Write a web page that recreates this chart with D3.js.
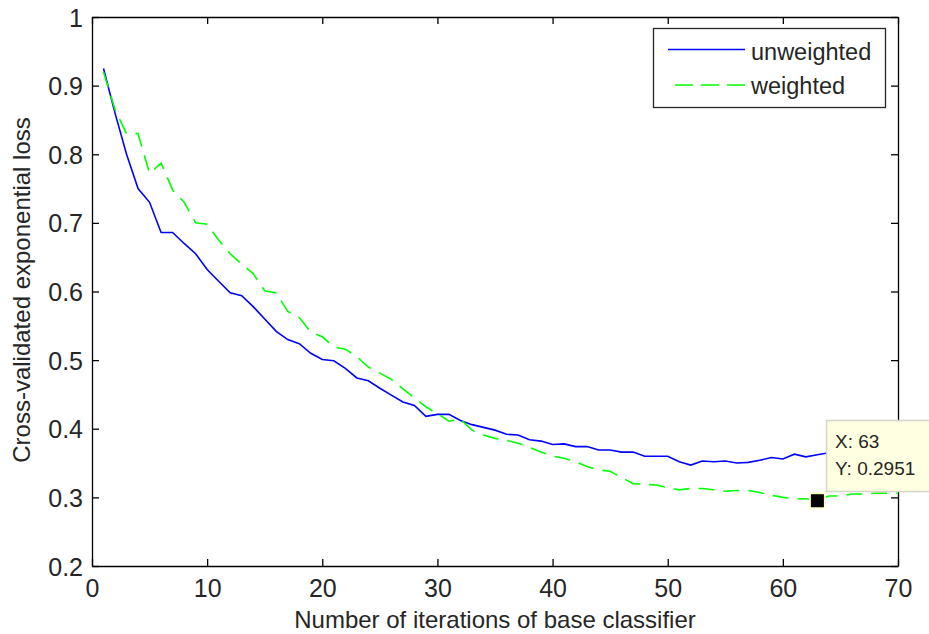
<!DOCTYPE html>
<html>
<head>
<meta charset="utf-8">
<script src="https://cdn.jsdelivr.net/npm/d3@7"></script>
<style>
  html, body { margin: 0; padding: 0; background: #ffffff; }
  svg { display: block; }
  text { font-family: "Liberation Sans", Arial, Helvetica, sans-serif; fill: #262626; }
</style>
</head>
<body>
<svg id="chart" width="929" height="634"></svg>
<script>
// ---- data ----
const iterations = d3.range(1, 71);
const unweighted = [
  0.925, 0.860, 0.800, 0.750, 0.730, 0.686, 0.686, 0.670, 0.655, 0.632,
  0.615, 0.598, 0.594, 0.578, 0.560, 0.542, 0.530, 0.524, 0.510, 0.501,
  0.499, 0.488, 0.474, 0.470, 0.459, 0.449, 0.439, 0.434, 0.418, 0.421,
  0.421, 0.412, 0.406, 0.402, 0.398, 0.392, 0.391, 0.384, 0.382, 0.377,
  0.378, 0.374, 0.374, 0.369, 0.369, 0.366, 0.366, 0.360, 0.360, 0.360,
  0.352, 0.347, 0.353, 0.352, 0.353, 0.350, 0.351, 0.354, 0.358, 0.356,
  0.363, 0.359, 0.362, 0.365, 0.366, 0.368, 0.366, 0.369, 0.368, 0.370
];
const weighted = [
  0.920, 0.865, 0.830, 0.830, 0.772, 0.787, 0.748, 0.730, 0.700, 0.698,
  0.675, 0.655, 0.640, 0.626, 0.601, 0.598, 0.571, 0.562, 0.541, 0.534,
  0.519, 0.516, 0.505, 0.490, 0.481, 0.472, 0.458, 0.445, 0.432, 0.422,
  0.411, 0.414, 0.398, 0.391, 0.386, 0.383, 0.379, 0.373, 0.366, 0.360,
  0.357, 0.352, 0.345, 0.340, 0.338, 0.329, 0.320, 0.319, 0.318, 0.314,
  0.311, 0.313, 0.313, 0.311, 0.309, 0.310, 0.310, 0.307, 0.303, 0.300,
  0.298, 0.298, 0.2951, 0.302, 0.302, 0.305, 0.305, 0.306, 0.306, 0.306
];
const seriesNames = ["unweighted", "weighted"];
const xTicks = [0, 10, 20, 30, 40, 50, 60, 70];
const yTicks = [0.2, 0.3, 0.4, 0.5, 0.6, 0.7, 0.8, 0.9, 1];
const xLabel = "Number of iterations of base classifier";
const yLabel = "Cross-validated exponential loss";
const tipX = 63, tipY = 0.2951;

// ---- layout ----
const L = 92, R = 898, T = 17, B = 566;
const svg = d3.select("#chart");
const x = d3.scaleLinear().domain([0, 70]).range([L, R]);
const y = d3.scaleLinear().domain([0.2, 1]).range([B, T]);
const tickLen = 7;

// frame
svg.append("rect").attr("x", L).attr("y", T).attr("width", R - L).attr("height", B - T)
  .attr("fill", "#ffffff").attr("stroke", "none");

// axes via d3 axis generators (ticks inward)
const fmtY = d => (d === 1 ? "1" : d3.format(".1f")(d));
const axB = svg.append("g").attr("transform", `translate(0,${B})`)
  .call(d3.axisBottom(x).tickValues(xTicks).tickSizeInner(-tickLen).tickSizeOuter(0).tickPadding(12));
const axT = svg.append("g").attr("transform", `translate(0,${T})`)
  .call(d3.axisTop(x).tickValues(xTicks).tickSizeInner(-tickLen).tickSizeOuter(0).tickFormat(""));
const axLf = svg.append("g").attr("transform", `translate(${L},0)`)
  .call(d3.axisLeft(y).tickValues(yTicks).tickSizeInner(-tickLen).tickSizeOuter(0).tickPadding(9).tickFormat(fmtY));
const axRt = svg.append("g").attr("transform", `translate(${R},0)`)
  .call(d3.axisRight(y).tickValues(yTicks).tickSizeInner(-tickLen).tickSizeOuter(0).tickFormat(""));

[axB, axT, axLf, axRt].forEach(g => {
  g.select(".domain").attr("stroke", "#000").attr("stroke-width", 1.3);
  g.selectAll(".tick line").attr("stroke", "#000").attr("stroke-width", 1.3);
  g.selectAll("text").attr("fill", "#262626").attr("font-size", 25)
    .attr("font-family", "'Liberation Sans', Arial, sans-serif");
});
axB.selectAll(".tick text").attr("dy", null).attr("y", 0)
  .attr("transform", "translate(0,31)");
axLf.selectAll(".tick text").attr("dy", "0.36em");

// series
const line = d3.line().x((d, i) => x(iterations[i])).y(d => y(d));
const g = svg.append("g");
g.append("path").datum(unweighted).attr("d", line)
  .attr("fill", "none").attr("stroke", "#0000ff").attr("stroke-width", 1.6);
g.append("path").datum(weighted).attr("d", line)
  .attr("fill", "none").attr("stroke", "#00ff00").attr("stroke-width", 1.6)
  .attr("stroke-dasharray", "16,9");

// axis labels
svg.append("text").attr("x", (L + R) / 2).attr("y", 628).attr("text-anchor", "middle")
  .attr("font-size", 24).text(xLabel);
svg.append("text").attr("transform", `translate(30,290) rotate(-90)`).attr("text-anchor", "middle")
  .attr("font-size", 24).text(yLabel);

// legend
const lg = svg.append("g");
lg.append("rect").attr("x", 653.5).attr("y", 28.5).attr("width", 232).attr("height", 79)
  .attr("fill", "#fff").attr("stroke", "#262626").attr("stroke-width", 1.3);
lg.append("line").attr("x1", 668).attr("x2", 745).attr("y1", 49.5).attr("y2", 49.5)
  .attr("stroke", "#0000ff").attr("stroke-width", 1.6);
lg.append("line").attr("x1", 675).attr("x2", 745).attr("y1", 85).attr("y2", 85)
  .attr("stroke", "#00ff00").attr("stroke-width", 1.6).attr("stroke-dasharray", "18,8");
lg.append("text").attr("x", 751).attr("y", 59.5).attr("font-size", 23.5).text(seriesNames[0]);
lg.append("text").attr("x", 751).attr("y", 94).attr("font-size", 23.5).text(seriesNames[1]);

// data tip
const mx = x(tipX), my = y(tipY);
svg.append("rect").attr("x", mx - 8.5).attr("y", my - 8.5).attr("width", 17).attr("height", 17)
  .attr("fill", "#ffffd0");
svg.append("rect").attr("x", mx - 6.5).attr("y", my - 6.5).attr("width", 13).attr("height", 13)
  .attr("fill", "#000");
const tg = svg.append("g");
tg.append("rect").attr("x", 826.5).attr("y", 420.5).attr("width", 104).attr("height", 71)
  .attr("fill", "#ffffe1").attr("stroke", "#d4d4c8").attr("stroke-width", 1.5);
tg.append("text").attr("x", 835).attr("y", 448).attr("font-size", 19).text("X: " + tipX);
tg.append("text").attr("x", 835).attr("y", 475).attr("font-size", 19).text("Y: " + tipY);
</script>
</body>
</html>
